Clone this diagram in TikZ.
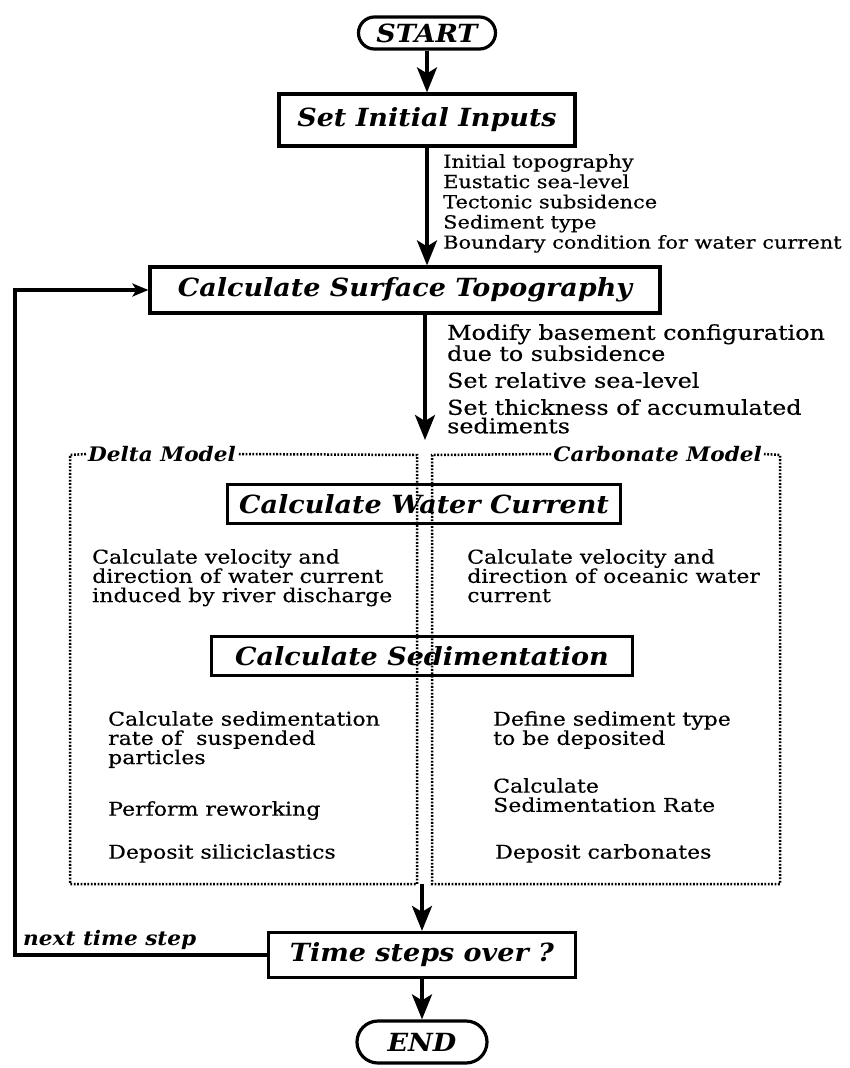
\documentclass[tikz,border=0pt]{standalone}
\usepackage{fontspec}
\setmainfont{DejaVu Serif}
\newfontfamily\bodyfont{DejaVu Serif}[FakeStretch=1.16, FakeBold=0.4]
\newfontfamily\titlefont{DejaVu Serif}[FakeStretch=1.08]
\usetikzlibrary{arrows.meta}
\begin{document}
\begin{tikzpicture}[x=1pt,y=-1pt,
  titlebox/.style={draw, line width=3.2pt, rectangle, inner sep=0pt,
    font=\titlefont\fontsize{25}{28}\selectfont\bfseries\itshape},
  termbox/.style={titlebox},
  flow/.style={line width=3.6pt, -{Stealth[length=25pt,width=20pt,inset=6pt]}},
  loopline/.style={line width=3.4pt, -{Stealth[length=16pt,width=13pt,inset=4pt]}},
  body/.style={align=left, inner sep=0pt, anchor=north west,
    font=\bodyfont\fontsize{19}{19.2}\selectfont},
  bodysmall/.style={align=left, inner sep=0pt, anchor=north west,
    font=\bodyfont\fontsize{18}{20.2}\selectfont},
  bodybig/.style={align=left, inner sep=0pt, anchor=north west,
    font=\bodyfont\fontsize{20.5}{18.5}\selectfont},
  modlabel/.style={inner sep=2pt, font=\titlefont\fontsize{20}{24}\selectfont\bfseries\itshape},
  dotline/.style={line width=2.5pt, dash pattern=on 1.8pt off 1.6pt},
]
\fill[white] (0,0) rectangle (849,1068);
\path[use as bounding box] (0,0) rectangle (849,1068);

% main boxes
\node[termbox, minimum width=137pt, minimum height=32pt, rounded corners=16pt] (start) at (427,33) {START};
\node[titlebox, minimum width=296pt, minimum height=52pt] (init) at (427,120) {Set Initial Inputs};
\node[titlebox, minimum width=510pt, minimum height=46pt] (surf) at (405,290) {Calculate Surface Topography};
\node[titlebox, minimum width=393pt, minimum height=39pt] (water) at (424,504) {Calculate Water Current};
\node[titlebox, minimum width=421pt, minimum height=39pt] (sedim) at (422,656) {Calculate Sedimentation};
\node[titlebox, minimum width=307pt, minimum height=45pt] (time) at (422,955) {Time steps over ?};
\node[termbox, minimum width=130pt, minimum height=42pt, rounded corners=21pt] (end) at (422,1042) {END};

% side texts
\node[bodysmall] (in) at (443,154) {Initial topography\\Eustatic sea-level\\Tectonic subsidence\\Sediment type\\Boundary condition for water current};
\node[bodybig] (m1) at (447,324) {Modify basement configuration\\due to subsidence};
\node[bodybig] (m2) at (447,372) {Set relative sea-level};
\node[bodybig] (m3) at (447,399) {Set thickness of accumulated\\sediments};

% model frames
\node[modlabel, anchor=west] (dl) at (86,454) {Delta Model};
\node[modlabel, anchor=east] (cm) at (764,454) {Carbonate Model};
\draw[dotline] (dl.west) -- (70,455) -- (70,884) -- (417,884) -- (417,455) -- (dl.east);
\draw[dotline] (cm.west) -- (432,455) -- (432,884) -- (780,884) -- (780,455) -- (cm.east);

% delta texts
\node[body] (d1) at (92,549) {Calculate velocity and\\direction of water current\\induced by river discharge};
\node[body] (d2) at (108,711) {Calculate sedimentation\\rate of\ \ suspended\\particles};
\node[body] (d3) at (108,801) {Perform reworking};
\node[body] (d4) at (108,844) {Deposit siliciclastics};

% carbonate texts
\node[body] (c1) at (467,549) {Calculate velocity and\\direction of oceanic water\\current};
\node[body] (c2) at (493,711) {Define sediment type\\to be deposited};
\node[body] (c3) at (493,778) {Calculate\\Sedimentation Rate};
\node[body] (c4) at (495,844) {Deposit carbonates};

% connectors
\coordinate (dtop) at (425,440);
\coordinate (dbot) at (422,884);
\coordinate (lp) at (15,955);
\draw[flow] (start) -- (init);
\draw[flow] (init) -- (init |- surf.north);
\draw[flow] (surf.south -| dtop) -- (dtop);
\draw[flow] (dbot) -- (time);
\draw[flow] (time) -- (end);
\draw[loopline] (time.west) -- (lp) |- (surf.west);
\node[modlabel, anchor=south west, inner sep=0pt] (nts) at (23,950) {next time step};
\end{tikzpicture}
\end{document}
